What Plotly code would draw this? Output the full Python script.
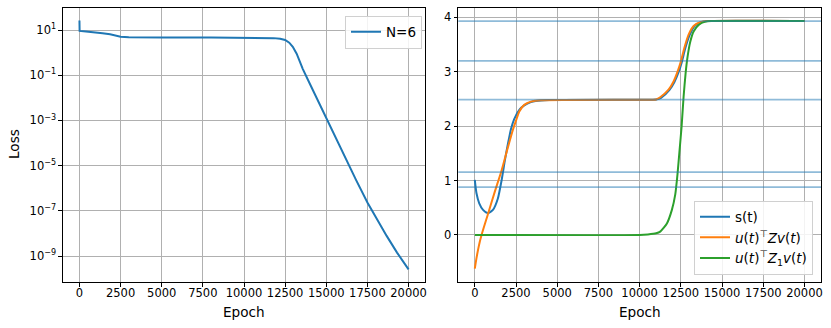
import numpy as np
import plotly.graph_objects as go

# ---- data ----
# left panel: training loss (N=6), log10 of loss per epoch
loss_epoch = [0, 10, 400, 850, 1400, 1860, 2200, 2500, 3000, 3500, 5000, 8000,
              10000, 11000, 11800, 12200, 12500, 12750, 12965, 13200, 13570,
              14000, 14500, 15000, 15600, 16210, 16800, 17500, 18100, 18670,
              19300, 20000]
loss_log10 = [1.42, 0.96, 0.93, 0.91, 0.86, 0.81, 0.75, 0.70, 0.68, 0.67, 0.665,
              0.665, 0.665, 0.66, 0.64, 0.61, 0.556, 0.44, 0.26, -0.05, -0.72,
              -1.38, -2.14, -2.93, -3.80, -4.78, -5.62, -6.63, -7.42, -8.11,
              -8.85, -9.59]

# right panel
s_epoch = [0, 100, 270, 500, 800, 1100, 1400, 1630, 1830, 2020, 2200, 2390, 2700,
           3000, 3400, 3700, 4500, 10000, 11000, 11300, 11800, 12110, 12360,
           12560, 12760, 13030, 13330, 13740, 14140, 20000]
s_vals = [1.01, 0.77, 0.58, 0.46, 0.40, 0.46, 0.67, 1.01, 1.38, 1.69, 1.95, 2.13,
          2.30, 2.38, 2.44, 2.46, 2.478, 2.485, 2.49, 2.52, 2.66, 2.81, 2.99,
          3.18, 3.42, 3.67, 3.84, 3.91, 3.93, 3.93]

uzv_epoch = [0, 100, 200, 300, 410, 815, 1220, 1630, 2000, 2300, 2500, 2700, 3000,
             3400, 4000, 10000, 11000, 11246, 11753, 12057, 12300, 12503, 12705,
             12969, 13272, 13678, 14083, 20000]
uzv_vals = [-0.62, -0.43, -0.27, -0.13, 0.0, 0.40, 0.80, 1.19, 1.60, 1.92, 2.10,
            2.27, 2.39, 2.45, 2.475, 2.485, 2.49, 2.53, 2.67, 2.82, 3.00, 3.19,
            3.43, 3.68, 3.84, 3.91, 3.93, 3.93]

uz1v_epoch = [0, 10000, 10500, 11000, 11246, 11652, 11955, 12158, 12300, 12422,
              12544, 12665, 12787, 12909, 13070, 13272, 13576, 13982, 14388, 20000]
uz1v_vals = [0.0, 0.0, 0.01, 0.03, 0.06, 0.21, 0.46, 0.74, 1.13, 1.56, 1.99, 2.54,
             2.97, 3.28, 3.55, 3.74, 3.86, 3.92, 3.93, 3.93]

hlines = [3.93, 3.20, 2.485, 1.156, 0.88]

loss_ticks = [1e1, 1e-1, 1e-3, 1e-5, 1e-7, 1e-9]
loss_ticktext = ["10<sup>1</sup>", "10<sup>\u22121</sup>", "10<sup>\u22123</sup>",
                 "10<sup>\u22125</sup>", "10<sup>\u22127</sup>", "10<sup>\u22129</sup>"]
epoch_ticks = [0, 2500, 5000, 7500, 10000, 12500, 15000, 17500, 20000]
epoch_ticktext = [str(t) for t in epoch_ticks]

BLUE, ORANGE, GREEN = "#1f77b4", "#ff7f0e", "#2ca02c"
W, H = 831, 328
FONT = "DejaVu Sans"

fig = go.Figure()
fig.add_trace(go.Scatter(x=loss_epoch, y=10 ** np.array(loss_log10), mode="lines",
                         name="N=6", line=dict(color=BLUE, width=2),
                         xaxis="x", yaxis="y", legend="legend"))
fig.add_trace(go.Scatter(x=s_epoch, y=s_vals, mode="lines", name="s(t)",
                         line=dict(color=BLUE, width=2, shape="spline", smoothing=0.6),
                         xaxis="x2", yaxis="y2", legend="legend2"))
fig.add_trace(go.Scatter(x=uzv_epoch, y=uzv_vals, mode="lines",
                         name="<i>u</i>(<i>t</i>)<sup>\u22a4</sup><i>Zv</i>(<i>t</i>)",
                         line=dict(color=ORANGE, width=2, shape="spline", smoothing=0.6),
                         xaxis="x2", yaxis="y2", legend="legend2"))
fig.add_trace(go.Scatter(x=uz1v_epoch, y=uz1v_vals, mode="lines",
                         name="<i>u</i>(<i>t</i>)<sup>\u22a4</sup><i>Z</i><sub>1</sub><i>v</i>(<i>t</i>)",
                         line=dict(color=GREEN, width=2, shape="spline", smoothing=0.6),
                         xaxis="x2", yaxis="y2", legend="legend2"))

# horizontal reference levels across the right panel
for v in hlines:
    fig.add_shape(type="line", xref="x2 domain", yref="y2", x0=0, x1=1, y0=v, y1=v,
                  line=dict(color="rgba(31,119,180,0.5)", width=1.8))

ydom = [1 - 282 / H, 1 - 8.3 / H]
axis_common = dict(showline=True, mirror=True, linecolor="black", linewidth=1.2,
                   ticks="outside", ticklen=3.5, tickwidth=1.1, tickcolor="black",
                   showgrid=True, gridcolor="#b0b0b0", gridwidth=1.1,
                   zeroline=False, automargin=False,
                   tickfont=dict(family=FONT, size=11.5, color="black"))

fig.update_layout(
    width=W, height=H, margin=dict(l=0, r=0, t=0, b=0),
    paper_bgcolor="white", plot_bgcolor="white",
    font=dict(family=FONT, color="black"),
    xaxis=dict(domain=[63 / W, 425 / W], anchor="y", range=[-1000, 21000],
               tickvals=epoch_ticks, ticktext=epoch_ticktext, ticklabelstandoff=-3,
               **axis_common),
    yaxis=dict(domain=ydom, anchor="x", type="log", range=[-10.15, 1.96],
               tickvals=loss_ticks, ticktext=loss_ticktext, **axis_common),
    xaxis2=dict(domain=[458.3 / W, 821 / W], anchor="y2", range=[-1000, 21000],
                tickvals=epoch_ticks, ticktext=epoch_ticktext, ticklabelstandoff=-3,
                **axis_common),
    yaxis2=dict(domain=ydom, anchor="x2", range=[-0.865, 4.165],
                tickvals=[0, 1, 2, 3, 4], **axis_common),
    legend=dict(x=422 / W, y=1 - 15.5 / H, xanchor="right", yanchor="top",
                bgcolor="rgba(255,255,255,0.85)", bordercolor="#d0d0d0", borderwidth=1,
                font=dict(family=FONT, size=13.5)),
    legend2=dict(x=813 / W, y=1 - 274.5 / H, xanchor="right", yanchor="bottom",
                 bgcolor="rgba(255,255,255,0.85)", bordercolor="#d0d0d0", borderwidth=1,
                 font=dict(family=FONT, size=13.5), tracegroupgap=0),
    showlegend=True,
    annotations=[
        dict(text="Epoch", x=244 / W, y=1 - 311.5 / H, xref="paper", yref="paper",
             xanchor="center", yanchor="middle",
             showarrow=False, font=dict(size=13.6, family=FONT)),
        dict(text="Epoch", x=639.5 / W, y=1 - 311.5 / H, xref="paper", yref="paper",
             xanchor="center", yanchor="middle",
             showarrow=False, font=dict(size=13.6, family=FONT)),
        dict(text="Loss", x=14 / W, y=1 - 144 / H, xref="paper", yref="paper",
             xanchor="center", yanchor="middle",
             showarrow=False, textangle=-90, font=dict(size=13.6, family=FONT)),
    ],
)

fig.write_html("out.html", config={"displayModeBar": False},
               post_script="document.body.style.margin='0';")
